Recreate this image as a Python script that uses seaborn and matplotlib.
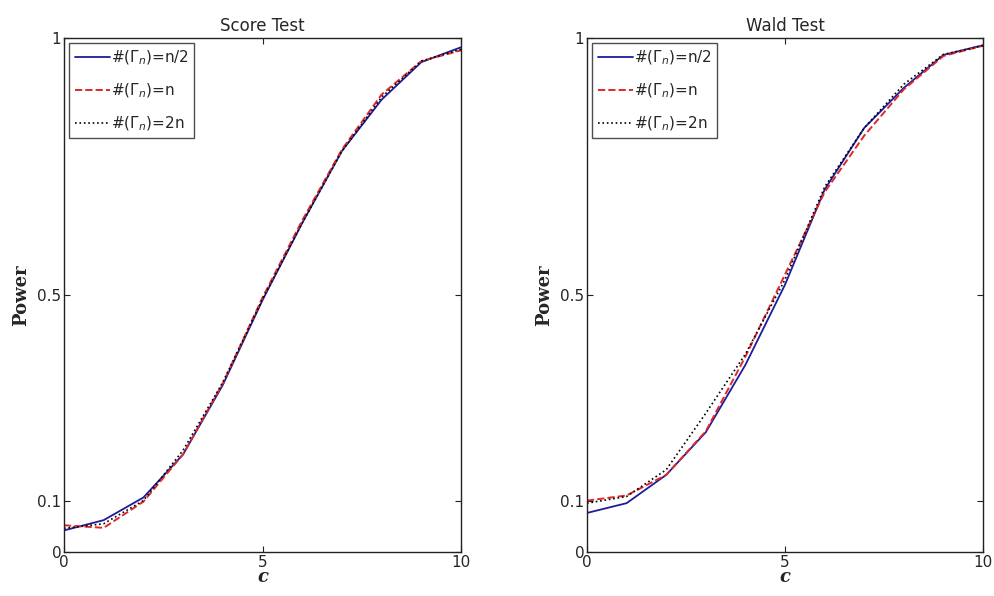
import matplotlib
matplotlib.use("Agg")
import matplotlib.pyplot as plt
import seaborn as sns
import pandas as pd
import numpy as np

c_vals = [0, 1, 2, 3, 4, 5, 6, 7, 8, 9, 10]

score_half = [0.042, 0.062, 0.106, 0.19, 0.325, 0.49, 0.64, 0.78, 0.88, 0.953, 0.982]
score_n    = [0.052, 0.047, 0.098, 0.19, 0.328, 0.495, 0.645, 0.783, 0.89, 0.955, 0.976]
score_2n   = [0.046, 0.055, 0.1, 0.198, 0.33, 0.492, 0.64, 0.78, 0.885, 0.955, 0.978]

wald_half = [0.076, 0.095, 0.15, 0.233, 0.364, 0.52, 0.705, 0.825, 0.903, 0.967, 0.986]
wald_n    = [0.1, 0.11, 0.15, 0.235, 0.38, 0.54, 0.70, 0.81, 0.90, 0.965, 0.985]
wald_2n   = [0.095, 0.108, 0.16, 0.27, 0.385, 0.53, 0.71, 0.825, 0.91, 0.968, 0.985]

labels = [r'#($\Gamma_n$)=n/2', r'#($\Gamma_n$)=n', r'#($\Gamma_n$)=2n']
titles = ["Score Test", "Wald Test"]

sns.set_style("white")
plt.rcParams['font.family'] = ['DejaVu Sans']
plt.rcParams['mathtext.fontset'] = 'dejavusans'

fig = plt.figure(figsize=(9.95, 5.96), dpi=100)
ax1 = fig.add_axes([64/995, 44/596, 397/995, 514/596])
ax2 = fig.add_axes([587/995, 44/596, 396/995, 514/596])

colors = ['#1c1c9c', '#e02828', '#000000']
styles = ['-', '--', ':']
widths = [1.3, 1.4, 1.2]

for ax, title, series in [(ax1, titles[0], [score_half, score_n, score_2n]),
                          (ax2, titles[1], [wald_half, wald_n, wald_2n])]:
    for vals, lab, col, ls, lw in zip(series, labels, colors, styles, widths):
        df = pd.DataFrame({"c": c_vals, "power": vals})
        sns.lineplot(data=df, x="c", y="power", ax=ax, color=col, linestyle=ls,
                     linewidth=lw, label=lab)
    ax.set_xlim(0, 10)
    ax.set_ylim(0, 1)
    ax.set_xticks([0, 5, 10])
    ax.set_xticklabels(['0', '5', '10'])
    ax.set_yticks([0, 0.1, 0.5, 1])
    ax.set_yticklabels(['0', '0.1', '0.5', '1'])
    ax.tick_params(direction='in', length=4, width=0.8, labelsize=11, pad=2,
                   top=True, right=True, bottom=True, left=True, color='#222222')
    for sp in ax.spines.values():
        sp.set_visible(True)
        sp.set_color('#222222')
        sp.set_linewidth(1.0)
    ax.set_title(title, fontsize=12, pad=5)
    ax.set_xlabel('c', fontsize=13, fontstyle='italic',
                  fontweight='bold', family='serif', labelpad=-1)
    ax.set_ylabel('Power', fontsize=13, fontweight='bold', family=['DejaVu Serif'], labelpad=5)
    leg = ax.legend(loc='upper left', fontsize=11, handlelength=2.3, handletextpad=0.1,
                    frameon=True, fancybox=False, borderpad=0.35, labelspacing=0.95,
                    borderaxespad=0.35)
    leg.get_frame().set_edgecolor('#222222')
    leg.get_frame().set_linewidth(1.0)

fig.savefig("out.png", dpi=100, facecolor='white')
